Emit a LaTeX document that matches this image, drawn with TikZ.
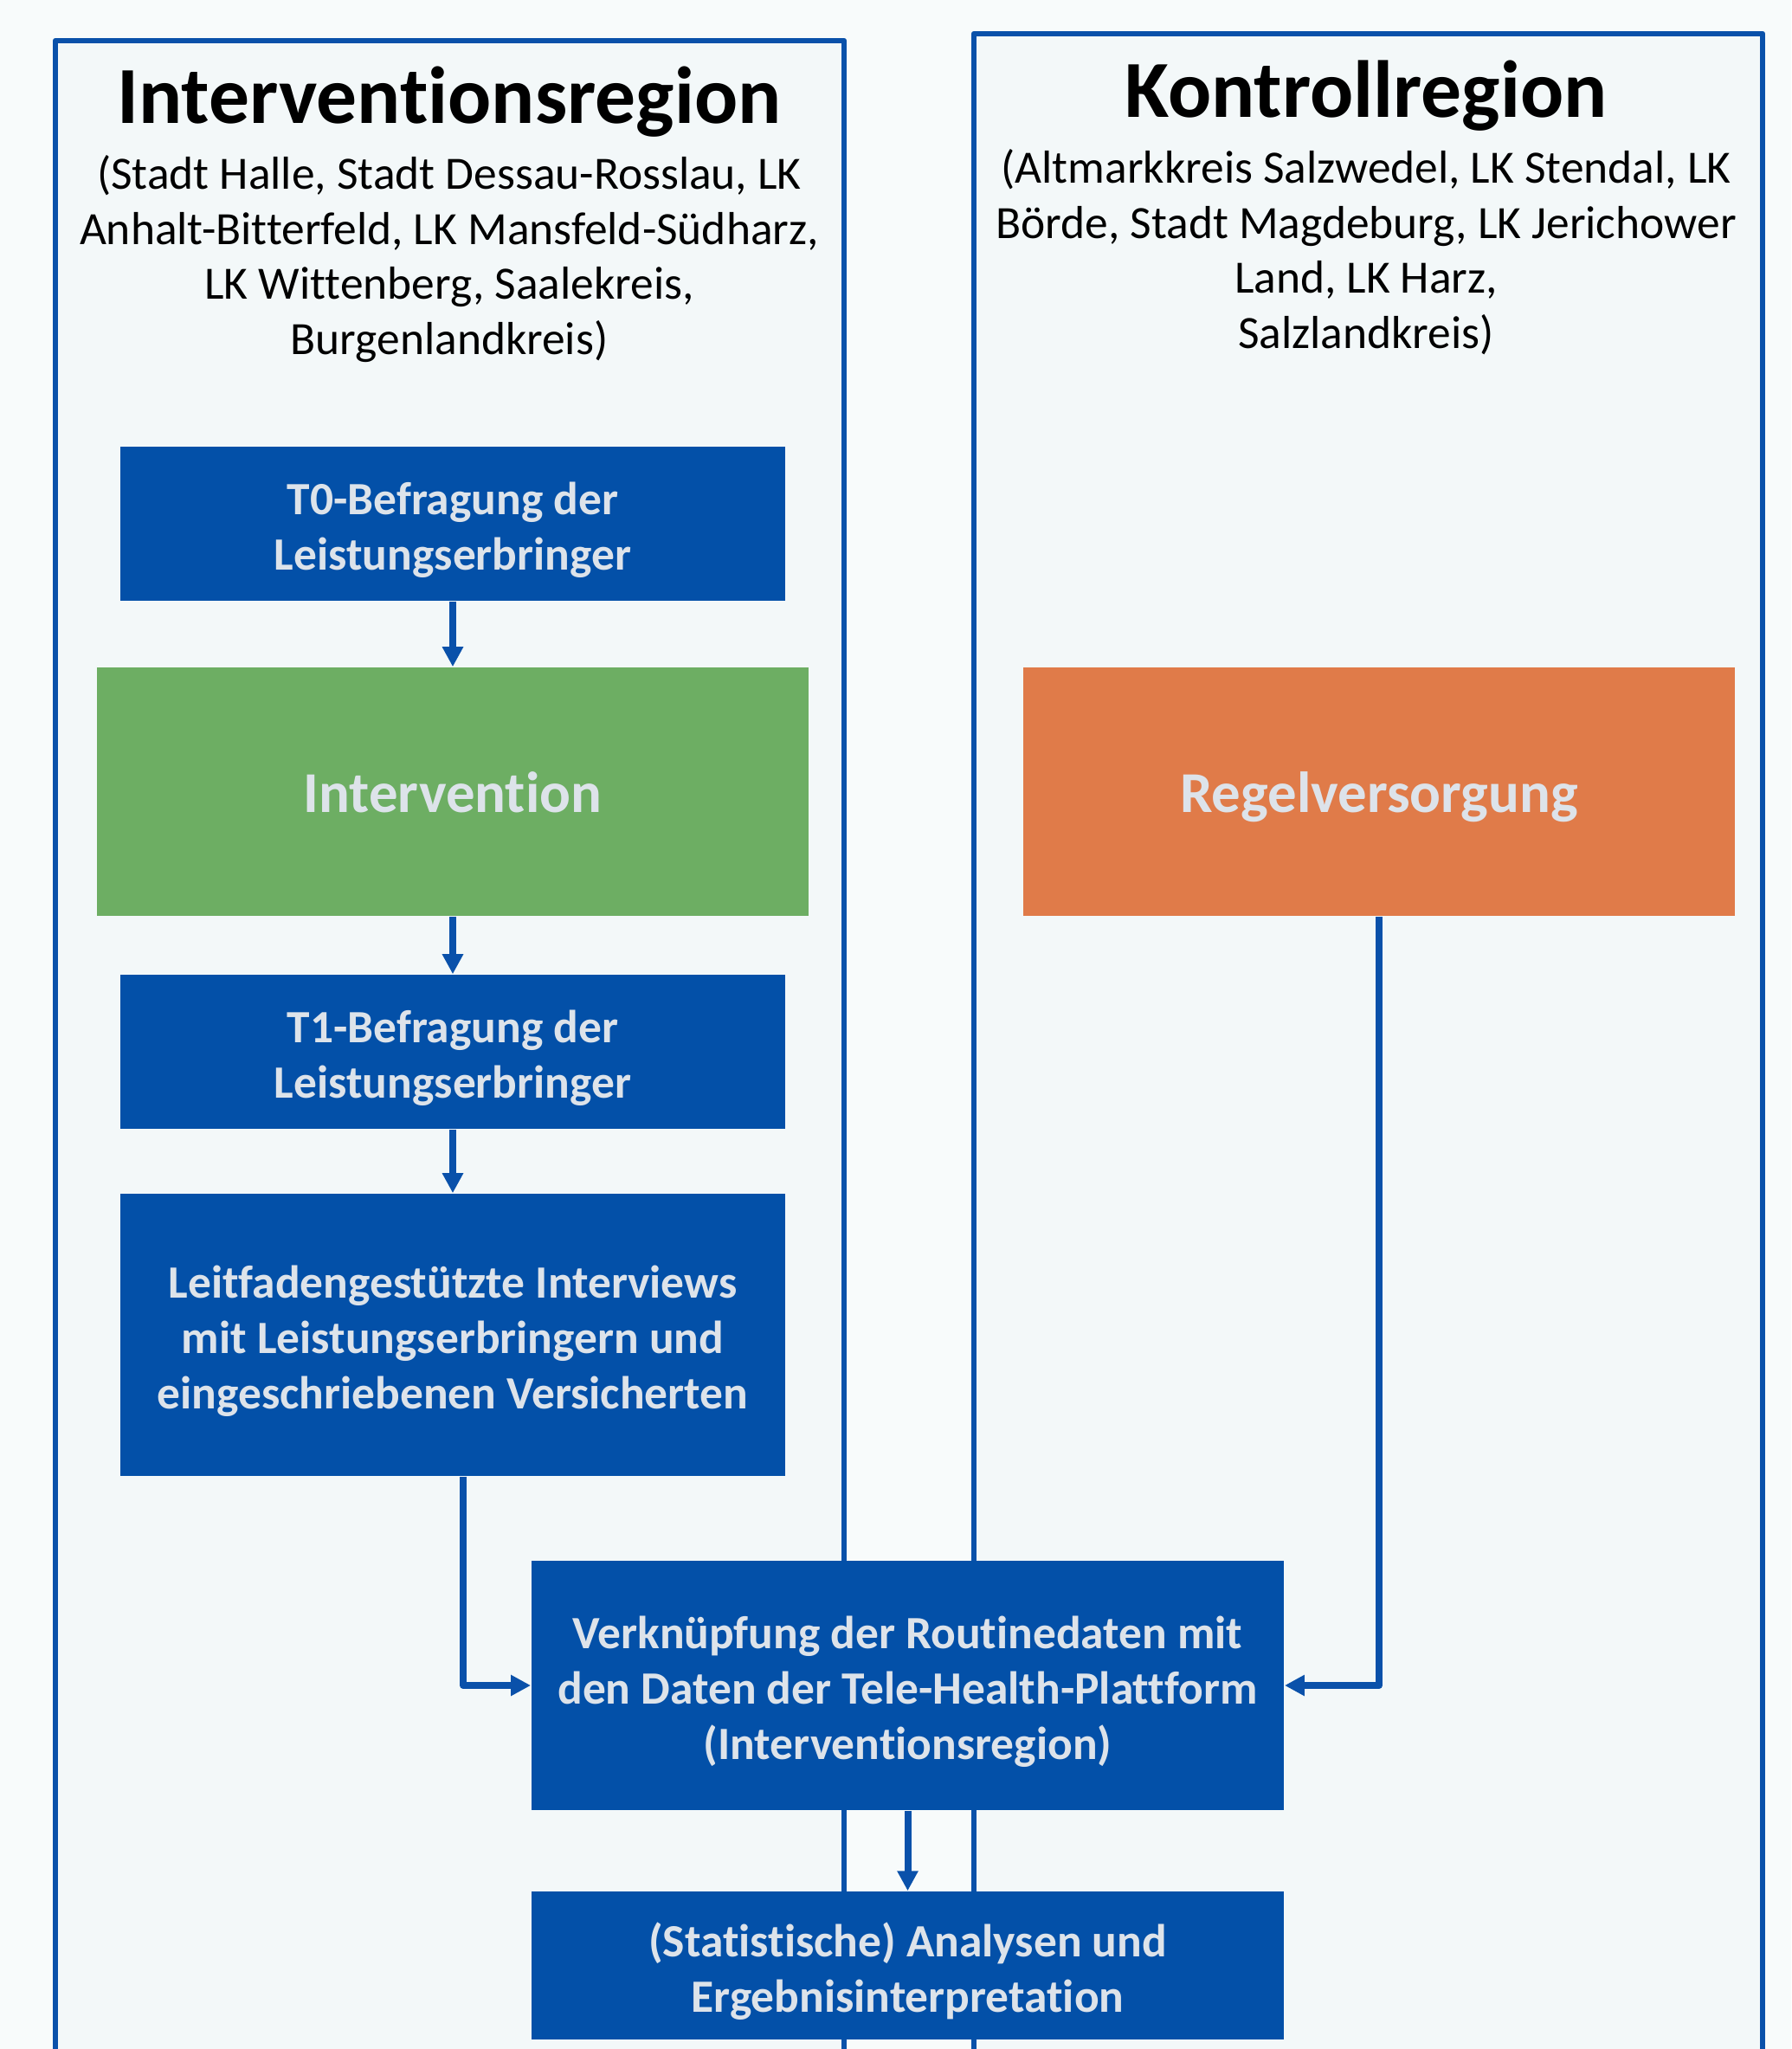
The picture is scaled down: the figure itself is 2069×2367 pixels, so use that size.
\documentclass[tikz,border=0pt]{standalone}
\usepackage{fontspec}
\setmainfont{Carlito}[Ligatures=NoCommon]
\usetikzlibrary{arrows.meta}
\definecolor{bg}{HTML}{F8FBFB}
\definecolor{regbg}{HTML}{F3F8F9}
\definecolor{boxblue}{HTML}{0350A8}
\definecolor{linblue}{HTML}{0A51AA}
\definecolor{boxtext}{HTML}{DDE3EA}
\definecolor{grn}{HTML}{6DAE63}
\definecolor{org}{HTML}{E07B49}
\begin{document}
\begin{tikzpicture}[x=0.01cm,y=-0.01cm,
 region/.style={draw=linblue,fill=regbg,line width=0.065cm,line join=round},
 boxshape/.style={draw=none,inner sep=0pt},
 boxtxt/.style={text=boxtext,font=\fontsize{15.2}{18.2}\selectfont\bfseries,align=center,inner sep=0pt},
 bigtxt/.style={text=boxtext,font=\fontsize{19}{22}\selectfont\bfseries,inner sep=0pt,anchor=base},
 arr/.style={draw=linblue,line width=0.08cm,line join=round,-{Triangle[length=0.23cm,width=0.23cm]}},
 titletext/.style={font=\fontsize{26.6}{32}\selectfont\bfseries,anchor=base,inner sep=0pt},
 subtext/.style={font=\fontsize{15.2}{18.1}\selectfont,align=center,inner sep=0pt}]
\useasboundingbox (0,0) rectangle (2069,2367);
\fill[bg] (0,0) rectangle (2069,2367);
% regions
\path[region] (64,2420) -- (64,47) -- (975,47) -- (975,2420);
\path[region] (1125,2420) -- (1125,39) -- (2036,39) -- (2036,2420);
% titles
\node[titletext] (ititle) at (519,143) {Interventionsregion};
\node[subtext] (isub) at (519,299) {(Stadt Halle, Stadt Dessau-Rosslau, LK\\Anhalt-Bitterfeld, LK Mansfeld-Südharz,\\LK Wittenberg, Saalekreis,\\Burgenlandkreis)};
\node[titletext] (ktitle) at (1578,136) {Kontrollregion};
\node[subtext] (ksub) at (1578,291) {(Altmarkkreis Salzwedel, LK Stendal, LK\\Börde, Stadt Magdeburg, LK Jerichower\\Land, LK Harz,\\Salzlandkreis)};
% boxes
\node[boxshape,fill=boxblue,minimum width=7.68cm,minimum height=1.78cm] (t0) at (523,605) {};
\node[boxtxt] (t0txt) at ([yshift=-0.07cm]t0.center) {T0-Befragung der\\Leistungserbringer};
\node[boxshape,fill=grn,minimum width=8.22cm,minimum height=2.87cm] (int) at (523,914.5) {};
\node[bigtxt] (inttxt) at (523,938) {Intervention};
\node[boxshape,fill=boxblue,minimum width=7.68cm,minimum height=1.78cm] (t1) at (523,1215) {};
\node[boxtxt] (t1txt) at ([yshift=-0.07cm]t1.center) {T1-Befragung der\\Leistungserbringer};
\node[boxshape,fill=boxblue,minimum width=7.68cm,minimum height=3.26cm] (leit) at (523,1542) {};
\node[boxtxt] (leittxt) at ([yshift=-0.07cm]leit.center) {Leitfadengestützte Interviews\\mit Leistungserbringern und\\eingeschriebenen Versicherten};
\node[boxshape,fill=org,minimum width=8.22cm,minimum height=2.87cm] (regel) at (1593,914.5) {};
\node[bigtxt] (regeltxt) at (1593,938) {Regelversorgung};
\node[boxshape,fill=boxblue,minimum width=8.69cm,minimum height=2.88cm] (verk) at (1048.5,1947) {};
\node[boxtxt] (verktxt) at ([yshift=-0.07cm]verk.center) {Verknüpfung der Routinedaten mit\\den Daten der Tele-Health-Plattform\\(Interventionsregion)};
\node[boxshape,fill=boxblue,minimum width=8.69cm,minimum height=1.71cm] (ana) at (1048.5,2270.5) {};
\node[boxtxt] (anatxt) at ([yshift=-0.07cm]ana.center) {(Statistische) Analysen und\\Ergebnisinterpretation};
% arrows
\draw[arr] (t0.south) -- (int.north);
\draw[arr] (int.south) -- (t1.north);
\draw[arr] (t1.south) -- (leit.north);
\draw[arr] ([xshift=0.12cm]leit.south) |- (verk.west);
\draw[arr] (regel.south) |- (verk.east);
\draw[arr] (verk.south) -- (ana.north);
\end{tikzpicture}
\end{document}
